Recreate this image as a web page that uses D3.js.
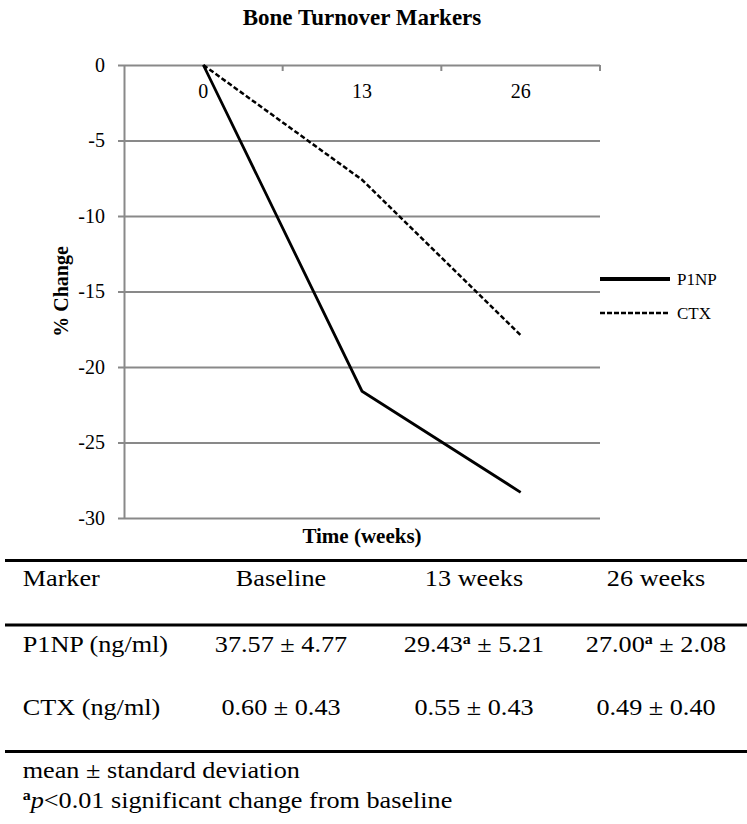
<!DOCTYPE html>
<html>
<head>
<meta charset="utf-8">
<script src="https://cdn.jsdelivr.net/npm/d3@7"></script>
<style>
  body { margin: 0; background: #fff; }
  text { font-family: "Liberation Serif", "Times New Roman", serif; fill: #000; }
</style>
</head>
<body>
<div id="chart"></div>
<script>
// chart data
var weeks = ["0", "13", "26"];
var p1npChange = [0, -21.6, -28.3];
var ctxChange = [0, -7.6, -17.9];
var yTicks = [0, -5, -10, -15, -20, -25, -30];
var seriesNames = ["P1NP", "CTX"];

// table data ("^a" marks the superscript)
var tableHeader = ["Marker", "Baseline", "13 weeks", "26 weeks"];
var p1npRow = ["P1NP (ng/ml)", "37.57 ± 4.77", "29.43^a ± 5.21", "27.00^a ± 2.08"];
var ctxRow = ["CTX (ng/ml)", "0.60 ± 0.43", "0.55 ± 0.43", "0.49 ± 0.40"];
var footNotes = ["mean ± standard deviation", "^ap<0.01 significant change from baseline"];

var W = 747, H = 824;
var plotL = 124, plotR = 600, plotT = 65, plotB = 518;
var gridColor = "#898989";

var svg = d3.select("#chart").append("svg")
    .attr("width", W)
    .attr("height", H);

var x = d3.scaleBand().domain(weeks).range([plotL, plotR]);
var y = d3.scaleLinear().domain([-30, 0]).range([plotB, plotT]);
var bw = x.bandwidth();

// title
svg.append("text")
    .attr("x", (plotL + plotR) / 2)
    .attr("y", 25)
    .attr("text-anchor", "middle")
    .style("font-size", "23px")
    .style("font-weight", "bold")
    .text("Bone Turnover Markers");

// horizontal grid lines
var grid = svg.append("g")
    .attr("transform", "translate(" + plotL + ",0)")
    .call(d3.axisLeft(y).tickValues(yTicks).tickSize(-(plotR - plotL)).tickFormat(""));
grid.select(".domain").remove();
grid.selectAll("line").attr("stroke", gridColor).attr("stroke-width", 2);

// y axis (plain hyphen for minus, like the original)
var yAxis = svg.append("g")
    .attr("transform", "translate(" + plotL + ",0)")
    .call(d3.axisLeft(y).tickValues(yTicks).tickSize(6).tickSizeOuter(0).tickPadding(13)
        .tickFormat(function (d) { return String(d); }));
yAxis.select(".domain").attr("stroke", gridColor).attr("stroke-width", 2);
yAxis.selectAll("line").attr("stroke", gridColor).attr("stroke-width", 2);
yAxis.selectAll("text")
    .style("font-family", "'Liberation Serif', serif")
    .style("font-size", "20px")
    .attr("fill", "#000");

// x axis sits on the zero line, labels below it
svg.selectAll(".xtick")
    .data(weeks)
    .enter().append("line")
    .attr("class", "xtick")
    .attr("x1", function (d) { return x(d) + x.step(); })
    .attr("x2", function (d) { return x(d) + x.step(); })
    .attr("y1", y(0))
    .attr("y2", y(0) + 6)
    .attr("stroke", gridColor)
    .attr("stroke-width", 2);
svg.selectAll(".xlabel")
    .data(weeks)
    .enter().append("text")
    .attr("class", "xlabel")
    .attr("x", function (d) { return x(d) + bw / 2; })
    .attr("y", 98)
    .attr("text-anchor", "middle")
    .style("font-size", "20px")
    .text(function (d) { return d; });

// axis titles
svg.append("text")
    .attr("transform", "translate(68," + (plotT + plotB) / 2 + ") rotate(-90)")
    .attr("text-anchor", "middle")
    .style("font-size", "20px")
    .style("font-weight", "bold")
    .text("% Change");
svg.append("text")
    .attr("x", (plotL + plotR) / 2)
    .attr("y", 543)
    .attr("text-anchor", "middle")
    .style("font-size", "21px")
    .style("font-weight", "bold")
    .text("Time (weeks)");

// series
var line = d3.line()
    .x(function (d, i) { return x(weeks[i]) + bw / 2; })
    .y(function (d) { return y(d); });
svg.append("path")
    .attr("d", line(p1npChange))
    .attr("fill", "none")
    .attr("stroke", "#000")
    .attr("stroke-width", 2.8);
svg.append("path")
    .attr("d", line(ctxChange))
    .attr("fill", "none")
    .attr("stroke", "#000")
    .attr("stroke-width", 2.5)
    .attr("stroke-dasharray", "5,2.5");

// legend
var legendY = [279, 313];
seriesNames.forEach(function (name, i) {
    svg.append("line")
        .attr("x1", plotR)
        .attr("x2", plotR + 70)
        .attr("y1", legendY[i])
        .attr("y2", legendY[i])
        .attr("stroke", "#000")
        .attr("stroke-width", i === 0 ? 4 : 2.5)
        .attr("stroke-dasharray", i === 0 ? null : "5,2");
    svg.append("text")
        .attr("x", plotR + 77)
        .attr("y", legendY[i] + 6)
        .style("font-size", "17px")
        .text(name);
});

// table
var stretch = 1.14;
var colX = [22.7, 281, 474, 656];
var rowY = [586, 651.7, 715];

function addCell(str, cx, cy, anchor) {
    var t = svg.append("text")
        .attr("transform", "translate(" + cx + "," + cy + ") scale(" + stretch + ",1)")
        .attr("text-anchor", anchor)
        .style("font-size", "23px");
    var parts = str.split("^a");
    parts.forEach(function (p, k) {
        if (k > 0) {
            t.append("tspan")
                .attr("dy", -8)
                .style("font-size", "14px")
                .style("font-weight", "bold")
                .text("a");
            // italic p in the footnote
            if (p.charAt(0) === "p") {
                t.append("tspan").attr("dy", 8).style("font-style", "italic").text("p");
                p = p.slice(1);
                t.append("tspan").text(p);
                return;
            }
            t.append("tspan").attr("dy", 8).text(p);
        } else if (p.length) {
            t.append("tspan").text(p);
        }
    });
}

[tableHeader, p1npRow, ctxRow].forEach(function (row, r) {
    row.forEach(function (cell, c) {
        addCell(cell, colX[c], rowY[r], c === 0 ? "start" : "middle");
    });
});

[560.5, 625, 751.5].forEach(function (ly) {
    svg.append("line")
        .attr("x1", 5)
        .attr("x2", W)
        .attr("y1", ly)
        .attr("y2", ly)
        .attr("stroke", "#000")
        .attr("stroke-width", 3);
});

footNotes.forEach(function (note, i) {
    addCell(note, 22.7, 778 + i * 30, "start");
});
</script>
</body>
</html>
